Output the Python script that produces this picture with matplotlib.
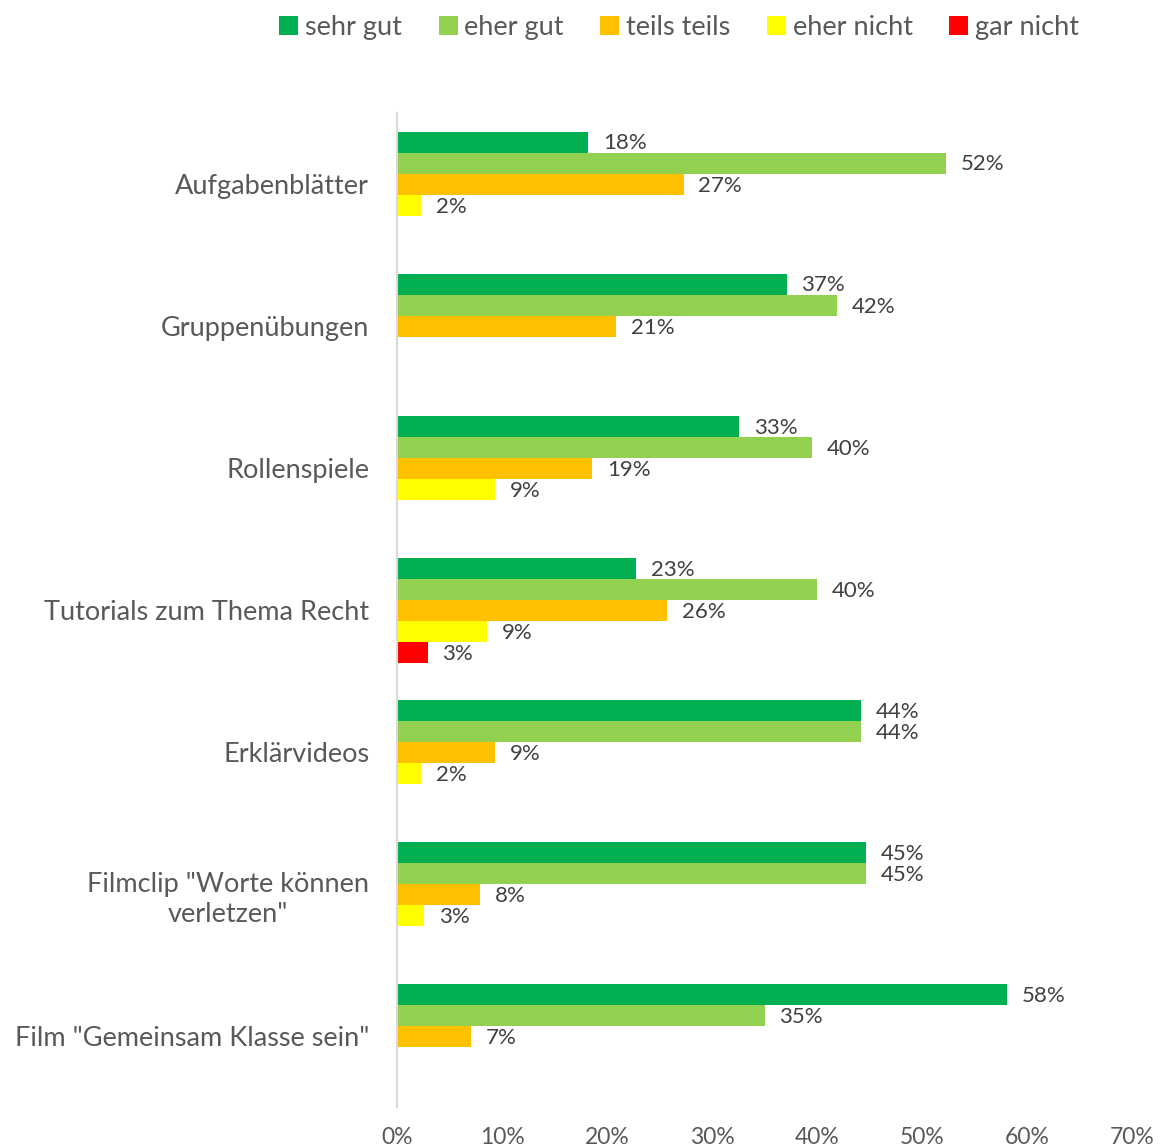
import matplotlib.pyplot as plt
from matplotlib.ticker import PercentFormatter

# Data (shares)
categories = ['Aufgabenblätter', 'Gruppenübungen', 'Rollenspiele',
              'Tutorials zum Thema Recht', 'Erklärvideos',
              'Filmclip "Worte können\nverletzen"', 'Film "Gemeinsam Klasse sein"']
series = ['sehr gut', 'eher gut', 'teils teils', 'eher nicht', 'gar nicht']
sehr_gut = [18.2, 37.1, 32.6, 22.8, 44.2, 44.7, 58.1]
eher_gut = [52.3, 41.9, 39.5, 40.0, 44.2, 44.7, 35.0]
teils_teils = [27.3, 20.9, 18.6, 25.7, 9.3, 7.9, 7.0]
eher_nicht = [2.3, 0, 9.3, 8.6, 2.3, 2.6, 0]
gar_nicht = [0, 0, 0, 2.9, 0, 0, 0]
colors = ['#00B050', '#92D050', '#FFC000', '#FFFF00', '#FF0000']

values = [sehr_gut, eher_gut, teils_teils, eher_nicht, gar_nicht]

plt.rcParams['font.family'] = ['Lato', 'DejaVu Sans']
text_color = '#595959'

fig = plt.figure(figsize=(11.61, 11.48), dpi=100)
ax = fig.add_axes([0.342, 0.0355, 0.633, 0.866])

bar_h = 0.148
for i, (name, vals, col) in enumerate(zip(series, values, colors)):
    ys = [c + (i - 2) * bar_h for c in range(len(categories))]
    xs = [v / 100 for v in vals]
    ax.barh(ys, xs, height=bar_h, color=col, label=name)
    for y, v in zip(ys, vals):
        if v > 0:
            ax.text(v / 100 + 0.014, y + 0.01, f'{round(v)}%', va='center', ha='left',
                    fontsize=16, color='#404040')

ax.set_xlim(0, 0.7)
ax.set_ylim(len(categories) - 0.5, -0.5)
ax.set_yticks(range(len(categories)))
ax.set_yticklabels(categories, fontsize=19.5, color=text_color, linespacing=1.25)
for lbl in ax.get_yticklabels():
    lbl.set_multialignment('center')
ax.set_xticks([i / 10 for i in range(8)])
ax.xaxis.set_major_formatter(PercentFormatter(1.0, decimals=0))
ax.tick_params(axis='x', labelsize=16.5, colors=text_color, length=0, pad=14)
ax.tick_params(axis='y', length=0, pad=20)

for s in ['top', 'right', 'bottom']:
    ax.spines[s].set_visible(False)
ax.spines['left'].set_color('#d9d9d9')
ax.spines['left'].set_linewidth(1.5)

fig.legend(loc='upper center', bbox_to_anchor=(0.585, 1.008), ncol=5, frameon=False,
           fontsize=19.5, labelcolor=text_color, handlelength=0.7, handleheight=0.7,
           handletextpad=0.25, columnspacing=1.35)

fig.savefig('out.png', dpi=100)
